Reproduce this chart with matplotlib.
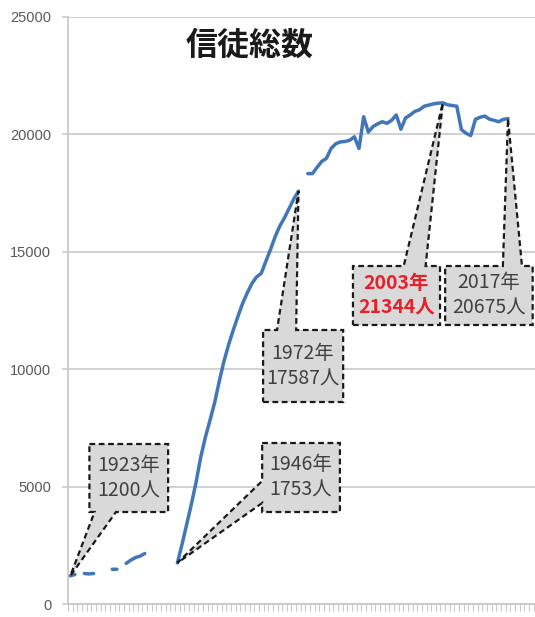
import numpy as np
import matplotlib
matplotlib.use("Agg")
import matplotlib.pyplot as plt
from matplotlib.patches import Polygon

plt.rcParams['font.family'] = ['Noto Sans CJK JP', 'DejaVu Sans']

nan = np.nan

# Membership per year (nan = no record for that year)
years = list(range(1923, 2018))
members = [
    # 1923-1929
    1200, 1260, nan, 1300, 1280, 1300, nan,
    # 1930-1939
    nan, nan, 1480, 1480, nan, 1730, 1870, 1980, 2040, 2150,
    # 1940-1949
    nan, nan, nan, nan, nan, nan, 1753, 2550, 3400, 4250,
    # 1950-1959
    5180, 6250, 7100, 7830, 8580, 9500, 10340, 11050, 11670, 12250,
    # 1960-1969
    12800, 13250, 13650, 13930, 14080, 14600, 15100, 15650, 16100, 16450,
    # 1970-1979
    16850, 17250, 17587, nan, 18330, 18330, 18600, 18850, 18980, 19400,
    # 1980-1989
    19600, 19680, 19700, 19750, 19900, 19400, 20750, 20100, 20330, 20450,
    # 1990-1999
    20540, 20470, 20600, 20830, 20220, 20700, 20830, 20980, 21050, 21200,
    # 2000-2009
    21250, 21300, 21330, 21344, 21260, 21230, 21200, 20200, 20050, 19950,
    # 2010-2017
    20640, 20730, 20780, 20650, 20600, 20540, 20640, 20675,
]

title = "信徒総数"
yticks = [0, 5000, 10000, 15000, 20000, 25000]

# Callouts: (year, members) of the point, label lines, colour, weight
callout_years = [1923, 1946, 1972, 2003, 2017]
callout_values = [1200, 1753, 17587, 21344, 20675]
callout_colors = ['#404040', '#404040', '#404040', '#e8202a', '#404040']
callout_weights = ['normal', 'normal', 'normal', 'bold', 'normal']
# box extents (x0, x1, y0, y1), side the pointer leaves from, and pointer base span
callout_boxes = [
    ((1927.1, 1944.0, 3918, 6814), 'bottom', (1928.2, 1932.8)),
    ((1964.2, 1980.9, 3918, 6857), 'left', (4300, 5240)),
    ((1964.4, 1981.6, 8603, 11670), 'top', (1967.4, 1971.5)),
    ((1983.7, 2002.4, 11883, 14395), 'top', (1994.6, 1999.3)),
    ((2003.5, 2022.3, 11883, 14395), 'top', (2015.9, 2020.0)),
]

line_color = '#4177b9'
grid_color = '#c9c9c9'

fig = plt.figure(figsize=(5.35, 6.17), dpi=100)
ax = fig.add_axes([68 / 535, 13 / 617, 1 - 68 / 535, 587 / 617])

ax.plot(years, members, color=line_color, lw=2.5, solid_capstyle='round',
        solid_joinstyle='round', zorder=3)

ax.set_xlim(1922.5, 2022.8)
ax.set_ylim(0, 25000)
ax.set_yticks(yticks)
ax.set_yticklabels([str(v) for v in yticks], family='Liberation Sans',
                   fontsize=10.5, color='#595959')
ax.set_xticks(np.arange(1922.5, 2023, 1.0))
ax.set_xticklabels([])
ax.tick_params(axis='y', length=4, width=1.1, color=grid_color, pad=8)
ax.tick_params(axis='x', length=5, width=0.8, color=grid_color, direction='out')
ax.grid(axis='y', color=grid_color, lw=1.2, zorder=0)
ax.set_axisbelow(True)
for side in ['top', 'right']:
    ax.spines[side].set_visible(False)
for side in ['left', 'bottom']:
    ax.spines[side].set_color(grid_color)
    ax.spines[side].set_linewidth(1.3)

ax.text(0.39, 0.952, title, transform=ax.transAxes, ha='center', va='center',
        fontsize=23, fontweight='bold', color='#1a1a1a')

for yr, val, col, wt, (box, side, base) in zip(
        callout_years, callout_values, callout_colors, callout_weights, callout_boxes):
    x0, x1, y0, y1 = box
    if side == 'bottom':
        pts = [(x0, y1), (x1, y1), (x1, y0), (base[1], y0), (yr, val),
               (base[0], y0), (x0, y0)]
    elif side == 'top':
        pts = [(x0, y0), (x1, y0), (x1, y1), (base[1], y1), (yr, val),
               (base[0], y1), (x0, y1)]
    else:  # left
        pts = [(x0, y1), (x1, y1), (x1, y0), (x0, y0), (x0, base[0]),
               (yr, val), (x0, base[1])]
    poly = Polygon(pts, closed=True, facecolor='#d9d9d9', edgecolor='#1a1a1a',
                   lw=1.6, linestyle=(0, (2.6, 1.6)), zorder=4, clip_on=False,
                   joinstyle='miter')
    ax.add_patch(poly)
    label = f"{yr}年\n{val}人"
    ax.text((x0 + x1) / 2, (y0 + y1) / 2, label, ha='center', va='center',
            fontsize=14, color=col, fontweight=wt, linespacing=1.3, zorder=5)

fig.savefig("out.png", dpi=100)
